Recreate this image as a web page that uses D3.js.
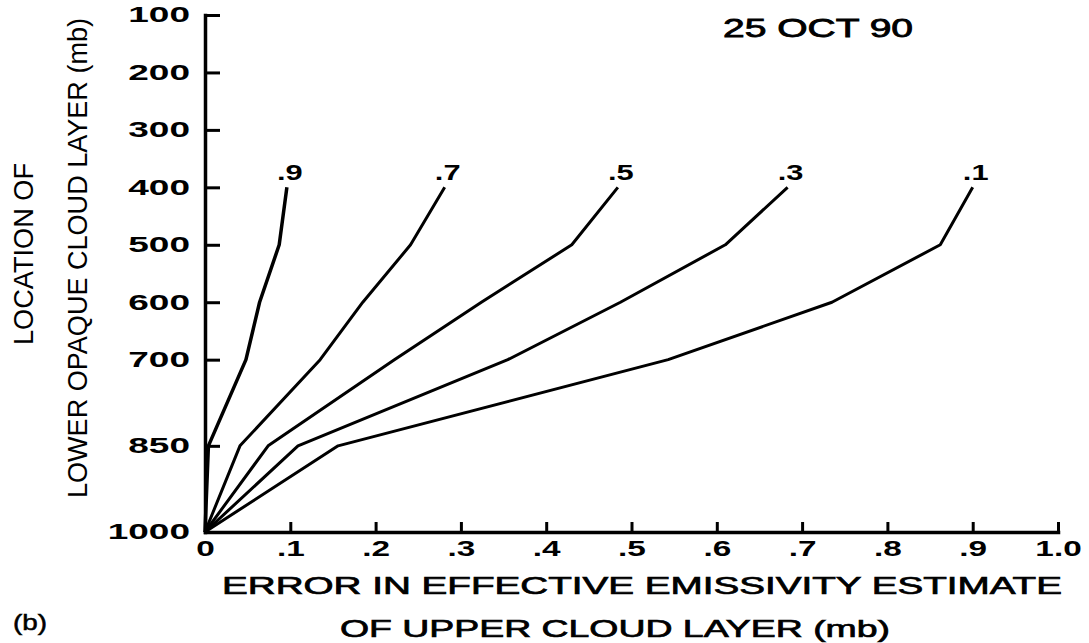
<!DOCTYPE html>
<html>
<head>
<meta charset="utf-8">
<script src="https://cdn.jsdelivr.net/npm/d3@7"></script>
<style>
  body { margin: 0; background: #fff; }
  svg { display: block; }
  text { font-family: "Liberation Sans", Arial, sans-serif; fill: #000; }
</style>
</head>
<body>
<svg id="chart" width="1089" height="643"></svg>
<script>
// pressure levels of the lower opaque cloud (mb)
var levels = [1000, 850, 700, 600, 500, 400];

// error in effective emissivity, one array per emissivity of the upper layer
var err09 = [0, 0.004, 0.048, 0.064, 0.087, 0.096];
var err07 = [0, 0.041, 0.135, 0.185, 0.241, 0.281];
var err05 = [0, 0.074, 0.222, 0.324, 0.430, 0.484];
var err03 = [0, 0.109, 0.355, 0.487, 0.610, 0.683];
var err01 = [0, 0.156, 0.543, 0.735, 0.862, 0.900];

var curveNames = [".9", ".7", ".5", ".3", ".1"];
var curveValues = [err09, err07, err05, err03, err01];

var yTicks = [100, 200, 300, 400, 500, 600, 700, 850, 1000];
var xTicks = [0, 0.1, 0.2, 0.3, 0.4, 0.5, 0.6, 0.7, 0.8, 0.9, 1.0];
var xTickLabels = ["0", ".1", ".2", ".3", ".4", ".5", ".6", ".7", ".8", ".9", "1.0"];

var svg = d3.select("#chart");

// the print uses a wide Helvetica, so glyphs get stretched sideways
function stretch(sel, k) {
    sel.each(function() {
        var w = this.getComputedTextLength();
        d3.select(this)
            .attr("textLength", w * k)
            .attr("lengthAdjust", "spacingAndGlyphs");
    });
}
// same, but to a fixed width
function fitTo(sel, w) {
    sel.attr("textLength", w).attr("lengthAdjust", "spacingAndGlyphs");
}

var xScale = d3.scaleLinear()
    .domain([0, 1])
    .range([205, 1058]);

var yScale = d3.scaleLinear()
    .domain([100, 1000])
    .range([15, 532]);

// y axis, ticks pointing into the plot
var yAxis = svg.append("g")
    .attr("class", "y axis")
    .attr("transform", "translate(" + xScale(0) + ",0)")
    .call(d3.axisLeft(yScale)
        .tickValues(yTicks)
        .tickSizeInner(-15)
        .tickSizeOuter(0)
        .tickPadding(15)
        .tickFormat(d3.format("d")));

// x axis, ticks pointing up
var xAxis = svg.append("g")
    .attr("class", "x axis")
    .attr("transform", "translate(0," + yScale(1000) + ")")
    .call(d3.axisBottom(xScale)
        .tickValues(xTicks)
        .tickSizeInner(-10)
        .tickSizeOuter(0)
        .tickPadding(9)
        .tickFormat(function(d, i) { return xTickLabels[i]; }));

svg.selectAll(".axis .domain")
    .attr("stroke", "#000")
    .attr("stroke-width", 3.5)
    .attr("stroke-linecap", "square");
svg.selectAll(".axis .tick line")
    .attr("stroke", "#000")
    .attr("stroke-width", 3);
svg.selectAll(".axis .tick text")
    .attr("font-size", 21.5)
    .attr("font-weight", "bold");
stretch(yAxis.selectAll(".tick text"), 1.72);
stretch(xAxis.selectAll(".tick text"), 1.55);

// the curves
var line = d3.line()
    .x(function(d) { return xScale(d[0]); })
    .y(function(d) { return yScale(d[1]); });

curveValues.forEach(function(vals, k) {
    var pts = vals.map(function(v, i) { return [v, levels[i]]; });
    svg.append("path")
        .datum(pts)
        .attr("d", line)
        .attr("fill", "none")
        .attr("stroke", "#000")
        .attr("stroke-width", k == 0 ? 3.5 : 3)
        .attr("stroke-linejoin", "round");

    var top = pts[pts.length - 1];
    var lbl = svg.append("text")
        .attr("x", xScale(top[0]) + 3)
        .attr("y", yScale(top[1]) - 7)
        .attr("text-anchor", "middle")
        .attr("font-size", 22)
        .attr("font-weight", "bold")
        .text(curveNames[k]);
    stretch(lbl, 1.4);
});

// date in the corner
fitTo(svg.append("text")
    .attr("x", 818)
    .attr("y", 37)
    .attr("text-anchor", "middle")
    .attr("font-size", 25)
    .attr("stroke", "#000")
    .attr("stroke-width", 0.8)
    .text("25 OCT 90"), 190);

// y title, two lines
fitTo(svg.append("text")
    .attr("transform", "translate(33,254) rotate(-90)")
    .attr("text-anchor", "middle")
    .attr("font-size", 28)
    .text("LOCATION OF"), 182);
fitTo(svg.append("text")
    .attr("transform", "translate(87,258) rotate(-90)")
    .attr("text-anchor", "middle")
    .attr("font-size", 28)
    .text("LOWER OPAQUE CLOUD LAYER (mb)"), 480);

// x title, two lines
fitTo(svg.append("text")
    .attr("x", 642)
    .attr("y", 594)
    .attr("text-anchor", "middle")
    .attr("font-size", 24)
    .attr("stroke", "#000")
    .attr("stroke-width", 0.7)
    .text("ERROR IN EFFECTIVE EMISSIVITY ESTIMATE"), 840);
fitTo(svg.append("text")
    .attr("x", 615)
    .attr("y", 637)
    .attr("text-anchor", "middle")
    .attr("font-size", 24)
    .attr("stroke", "#000")
    .attr("stroke-width", 0.7)
    .text("OF UPPER CLOUD LAYER (mb)"), 550);

// panel letter
fitTo(svg.append("text")
    .attr("x", 13)
    .attr("y", 630)
    .attr("font-size", 22)
    .attr("stroke", "#000")
    .attr("stroke-width", 0.5)
    .text("(b)"), 34);
</script>
</body>
</html>
